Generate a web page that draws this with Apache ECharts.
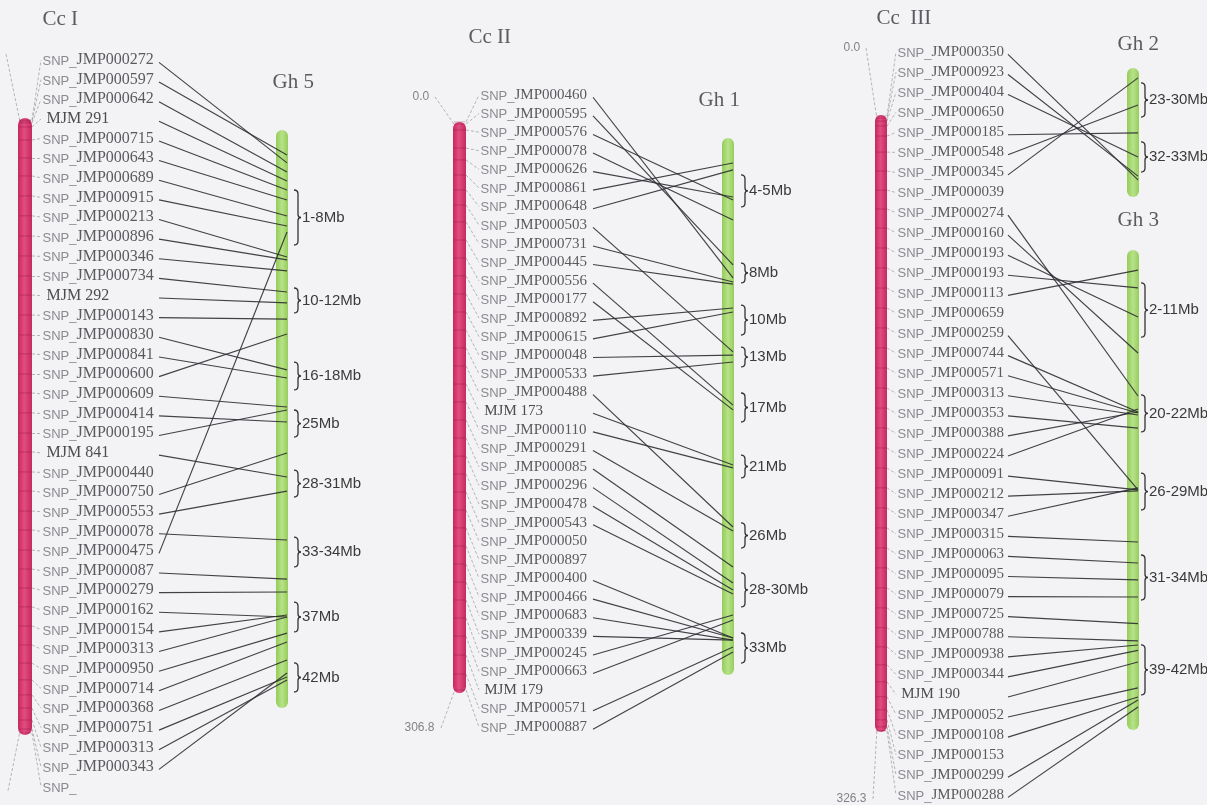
<!DOCTYPE html>
<html>
<head>
<meta charset="utf-8">
<title>Cc / Gh synteny</title>
<script src="https://cdn.jsdelivr.net/npm/echarts@6/dist/echarts.min.js"></script>
<style>
  html, body { margin: 0; padding: 0; background: #f3f3f5; }
  #main { width: 1207px; height: 805px; }
</style>
</head>
<body>
<div id="main"></div>
<script>
// ---- Cc I -> Gh 5 ----
const cc1Markers = ['SNP_JMP000272', 'SNP_JMP000597', 'SNP_JMP000642', 'MJM 291', 'SNP_JMP000715', 'SNP_JMP000643',
  'SNP_JMP000689', 'SNP_JMP000915', 'SNP_JMP000213', 'SNP_JMP000896', 'SNP_JMP000346', 'SNP_JMP000734', 'MJM 292',
  'SNP_JMP000143', 'SNP_JMP000830', 'SNP_JMP000841', 'SNP_JMP000600', 'SNP_JMP000609', 'SNP_JMP000414',
  'SNP_JMP000195', 'MJM 841', 'SNP_JMP000440', 'SNP_JMP000750', 'SNP_JMP000553', 'SNP_JMP000078', 'SNP_JMP000475',
  'SNP_JMP000087', 'SNP_JMP000279', 'SNP_JMP000162', 'SNP_JMP000154', 'SNP_JMP000313', 'SNP_JMP000950',
  'SNP_JMP000714', 'SNP_JMP000368', 'SNP_JMP000751', 'SNP_JMP000313', 'SNP_JMP000343', 'SNP_'];
// map position (cM) of each marker on Cc I
const cc1Pos = [1.0, 1.5, 2.4, 4.4, 10.7, 19.4, 28.2, 37.9, 47.6, 57.4, 67.1, 76.8, 86.1, 95.8, 105.5, 114.7, 124.5,
  133.7, 143.4, 153.2, 162.4, 172.1, 181.4, 191.1, 200.3, 210.1, 219.3, 228.5, 237.7, 247.0, 256.2, 265.0, 273.2,
  280.5, 286.9, 292.7, 297.1, 299.0];
const cc1Len = 300;
// [marker row, row where the link meets Gh 5]
const gh5Links = [[0, 5.24], [1, 4.84], [2, 5.70], [3, 6.16], [4, 6.62], [5, 7.13], [6, 7.94], [7, 8.45], [8, 10.03],
  [9, 10.18], [10, 10.74], [11, 11.81], [12, 12.37], [13, 13.19], [14, 15.78], [15, 16.19], [16, 13.95], [17, 17.67],
  [18, 18.43], [19, 17.82], [20, 21.23], [22, 20.01], [23, 21.95], [24, 24.44], [25, 8.76], [26, 26.43], [27, 27.09],
  [28, 28.36], [29, 28.26], [30, 28.36], [31, 29.18], [32, 29.63], [33, 30.55], [34, 31.42], [35, 31.57], [36, 31.21]];
const gh5Extent = [3.56, 32.99];
const gh5Brackets = [['1-8Mb', 6.62, 9.42], ['10-12Mb', 11.61, 12.88], ['16-18Mb', 15.38, 16.8], ['25Mb', 17.82, 19.2],
  ['28-31Mb', 20.88, 22.25], ['33-34Mb', 24.29, 25.81], ['37Mb', 27.6, 29.12], ['42Mb', 30.7, 32.18]];

// ---- Cc II -> Gh 1 ----
const cc2Markers = ['SNP_JMP000460', 'SNP_JMP000595', 'SNP_JMP000576', 'SNP_JMP000078', 'SNP_JMP000626',
  'SNP_JMP000861', 'SNP_JMP000648', 'SNP_JMP000503', 'SNP_JMP000731', 'SNP_JMP000445', 'SNP_JMP000556',
  'SNP_JMP000177', 'SNP_JMP000892', 'SNP_JMP000615', 'SNP_JMP000048', 'SNP_JMP000533', 'SNP_JMP000488', 'MJM 173',
  'SNP_JMP000110', 'SNP_JMP000291', 'SNP_JMP000085', 'SNP_JMP000296', 'SNP_JMP000478', 'SNP_JMP000543',
  'SNP_JMP000050', 'SNP_JMP000897', 'SNP_JMP000400', 'SNP_JMP000466', 'SNP_JMP000683', 'SNP_JMP000339',
  'SNP_JMP000245', 'SNP_JMP000663', 'MJM 179', 'SNP_JMP000571', 'SNP_JMP000887'];
const cc2Pos = [0.0, 1.1, 4.3, 14.0, 20.4, 28.5, 36.5, 44.6, 53.7, 63.4, 73.1, 82.7, 92.4, 102.1, 111.8, 121.4, 131.1,
  140.8, 150.4, 160.1, 169.8, 179.5, 189.1, 198.8, 208.5, 218.1, 227.8, 237.5, 247.2, 256.8, 266.5, 276.2, 286.4,
  296.6, 305.2];
const cc2Len = 306.8;
const gh1Links = [[0, 9.84], [1, 9.14], [2, 5.65], [3, 6.72], [4, 5.49], [5, 3.66], [6, 4.03], [7, 13.82], [8, 10.06],
  [9, 10.17], [10, 16.68], [11, 16.94], [12, 11.46], [13, 11.67], [14, 13.99], [15, 14.36], [16, 23.24], [17, 19.9],
  [18, 20.06], [19, 23.45], [20, 25.39], [21, 26.25], [22, 26.63], [23, 26.84], [26, 29.21], [27, 29.21], [28, 29.32],
  [29, 29.32], [30, 27.97], [31, 28.24], [33, 29.69], [34, 29.96]];
const gh1Extent = [2.31, 31.2];
const gh1Brackets = [['4-5Mb', 4.3, 6.02], ['8Mb', 9.04, 10.11], ['10Mb', 11.3, 12.91], ['13Mb', 13.56, 14.63],
  ['17Mb', 16.03, 17.59], ['21Mb', 19.37, 20.6], ['26Mb', 23.02, 24.37], ['28-30Mb', 25.71, 27.54],
  ['33Mb', 28.94, 30.56]];

// ---- Cc III -> Gh 2 / Gh 3 ----
const cc3Markers = ['SNP_JMP000350', 'SNP_JMP000923', 'SNP_JMP000404', 'SNP_JMP000650', 'SNP_JMP000185',
  'SNP_JMP000548', 'SNP_JMP000345', 'SNP_JMP000039', 'SNP_JMP000274', 'SNP_JMP000160', 'SNP_JMP000193',
  'SNP_JMP000193', 'SNP_JMP000113', 'SNP_JMP000659', 'SNP_JMP000259', 'SNP_JMP000744', 'SNP_JMP000571',
  'SNP_JMP000313', 'SNP_JMP000353', 'SNP_JMP000388', 'SNP_JMP000224', 'SNP_JMP000091', 'SNP_JMP000212',
  'SNP_JMP000347', 'SNP_JMP000315', 'SNP_JMP000063', 'SNP_JMP000095', 'SNP_JMP000079', 'SNP_JMP000725',
  'SNP_JMP000788', 'SNP_JMP000938', 'SNP_JMP000344', 'MJM 190', 'SNP_JMP000052', 'SNP_JMP000108', 'SNP_JMP000153',
  'SNP_JMP000299', 'SNP_JMP000288'];
const cc3Pos = [0.5, 1.6, 3.2, 5.8, 11.1, 19.6, 29.6, 39.7, 49.7, 59.8, 70.3, 80.9, 91.5, 102.1, 112.6, 123.2, 133.8,
  144.4, 155.0, 165.5, 176.1, 186.7, 197.2, 207.8, 218.4, 229.0, 239.5, 250.1, 260.7, 271.2, 281.3, 290.8, 299.8,
  307.7, 314.6, 319.9, 323.6, 325.7];
const cc3Len = 326.3;
const gh2Links = [[0, 6.37], [1, 6.18], [2, 5.23], [4, 4.03], [5, 2.64], [6, 1.29]];
const gh2Extent = [0.8, 7.22];
const gh2Brackets = [['23-30Mb', 1.54, 3.24], ['32-33Mb', 4.48, 5.98]];
const gh3Links = [[8, 17.13], [9, 14.99], [10, 13.2], [11, 11.75], [12, 10.86], [14, 21.81], [15, 17.93], [16, 17.98],
  [17, 18.08], [18, 18.73], [19, 17.93], [20, 17.78], [21, 21.81], [22, 21.86], [23, 21.71], [24, 24.4], [25, 25.45],
  [26, 26.29], [27, 27.14], [28, 28.47], [29, 29.33], [30, 29.53], [31, 29.8], [32, 30.38], [33, 31.67], [34, 32.12],
  [36, 32.27], [37, 32.62]];
const gh3Extent = [9.86, 33.76];
const gh3Brackets = [['2-11Mb', 11.5, 14.2], ['20-22Mb', 17.08, 18.92], ['26-29Mb', 20.97, 22.81],
  ['31-34Mb', 25.05, 27.29], ['39-42Mb', 29.53, 32.02]];

const W = 1207, H = 805;

// layout of each panel (pixels on x, marker rows on y)
const panels = [
  {
    title: 'Cc I', titleX: 42, titleRow: -2.04,
    markers: cc1Markers, pos: cc1Pos, len: cc1Len, y0: 60, step: 19.64,
    red: {x: 18, w: 14, top: 2.95, bottom: 34.37},
    labelX: 42, lineX: 159, fs: 16,
    ends: [{text: '', x: 6, row: -0.3, edge: 'top'}, {text: '', x: 8, row: 37.2, edge: 'bottom'}],
    gh: [{name: 'Gh 5', titleRow: 1.12, titleX: 272, extent: gh5Extent, links: gh5Links, brackets: gh5Brackets}],
    ghX: 276, braceX: 294
  },
  {
    title: 'Cc II', titleX: 468, titleRow: -3.07,
    markers: cc2Markers, pos: cc2Pos, len: cc2Len, y0: 95, step: 18.59,
    red: {x: 453, w: 13, top: 1.45, bottom: 32.17},
    labelX: 480, lineX: 593, fs: 15,
    ends: [{text: '0.0', x: 412, row: 0.1, edge: 'top'}, {text: '306.8', x: 404, row: 34.05, edge: 'bottom'}],
    gh: [{name: 'Gh 1', titleRow: 0.27, titleX: 698, extent: gh1Extent, links: gh1Links, brackets: gh1Brackets}],
    ghX: 722, braceX: 741
  },
  {
    title: 'Cc  III', titleX: 876, titleRow: -1.69,
    markers: cc3Markers, pos: cc3Pos, len: cc3Len, y0: 52, step: 20.08,
    red: {x: 875, w: 12, top: 3.14, bottom: 33.86},
    labelX: 897, lineX: 1008, fs: 15,
    ends: [{text: '0.0', x: 843, row: -0.2, edge: 'top'}, {text: '326.3', x: 836, row: 37.2, edge: 'bottom'}],
    gh: [
      {name: 'Gh 2', titleRow: -0.35, titleX: 1117, extent: gh2Extent, links: gh2Links, brackets: gh2Brackets},
      {name: 'Gh 3', titleRow: 8.37, titleX: 1117, extent: gh3Extent, links: gh3Links, brackets: gh3Brackets}
    ],
    ghX: 1127, braceX: 1141
  }
];
const GH_W = 12;

const grids = [], xAxes = [], yAxes = [], series = [];

panels.forEach(function (p, k) {
  grids.push({left: 0, top: 0, width: W, height: H});
  xAxes.push({gridIndex: k, type: 'value', min: 0, max: W, show: false});
  yAxes.push({gridIndex: k, type: 'value', inverse: true, min: -p.y0 / p.step, max: (H - p.y0) / p.step, show: false});
  const ax = {xAxisIndex: k, yAxisIndex: k};
  const cmRow = function (cm) { return p.red.top + cm / p.len * (p.red.bottom - p.red.top); };

  // dashed leaders from the map to the marker names
  const leaders = p.markers.map(function (m, i) {
    return {coords: [[p.red.x + p.red.w, cmRow(p.pos[i])], [p.labelX - 1, i]]};
  });
  p.ends.forEach(function (e) {
    const r = e.edge === 'top' ? p.red.top + 0.2 : p.red.bottom - 0.2;
    leaders.push({coords: [[e.x + (e.text ? e.text.length * 7 + 2 : 0), e.row], [p.red.x + 2, r]]});
  });
  series.push(Object.assign({
    type: 'lines', coordinateSystem: 'cartesian2d', silent: true, clip: false, z: 1,
    lineStyle: {color: '#8e8e96', width: 0.8, type: [3, 2], opacity: 0.8},
    data: leaders
  }, ax));

  // chromosome bars: red (Cc) and green (Gh)
  const bars = [{x: p.red.x, w: p.red.w, top: p.red.top, bottom: p.red.bottom, red: true}];
  p.gh.forEach(function (g) {
    bars.push({x: p.ghX, w: GH_W, top: g.extent[0], bottom: g.extent[1], red: false});
  });
  series.push(Object.assign({
    type: 'custom', silent: true, z: 2,
    data: bars.map(function (b, i) { return [i]; }),
    renderItem: function (params, api) {
      const b = bars[params.dataIndex];
      const a = api.coord([b.x, b.top]), c = api.coord([b.x + b.w, b.bottom]);
      const fill = b.red
        ? new echarts.graphic.LinearGradient(0, 0, 1, 0, [
            {offset: 0, color: '#c8285e'}, {offset: 0.45, color: '#e24d80'}, {offset: 1, color: '#c52a5e'}])
        : new echarts.graphic.LinearGradient(0, 0, 1, 0, [
            {offset: 0, color: '#95cc58'}, {offset: 0.5, color: '#b7e28a'}, {offset: 1, color: '#97cd5b'}]);
      return {
        type: 'rect',
        shape: {x: a[0], y: a[1], width: c[0] - a[0], height: c[1] - a[1], r: (c[0] - a[0]) / 2},
        style: {fill: fill}
      };
    }
  }, ax));

  // marker ticks across the red bar
  series.push(Object.assign({
    type: 'custom', silent: true, z: 3,
    data: p.pos.map(function (cm) { return [cmRow(cm)]; }),
    renderItem: function (params, api) {
      const a = api.coord([p.red.x + 1, api.value(0)]), c = api.coord([p.red.x + p.red.w - 1, api.value(0)]);
      return {type: 'line', shape: {x1: a[0], y1: a[1], x2: c[0], y2: c[1]},
        style: {stroke: 'rgba(120,10,50,0.3)', lineWidth: 1}};
    }
  }, ax));

  // links from the marker names to the Gh chromosome
  const links = [];
  p.gh.forEach(function (g) {
    g.links.forEach(function (l) {
      links.push({coords: [[p.lineX, l[0] + 0.12], [p.ghX + GH_W - 1, l[1]]]});
    });
  });
  series.push(Object.assign({
    type: 'lines', coordinateSystem: 'cartesian2d', silent: true, clip: false, z: 4,
    lineStyle: {color: '#2e2e33', width: 1.15, opacity: 0.9},
    data: links
  }, ax));

  // braces and Mb labels
  const brackets = [];
  p.gh.forEach(function (g) { g.brackets.forEach(function (b) { brackets.push(b); }); });
  series.push(Object.assign({
    type: 'custom', silent: true, z: 5,
    data: brackets.map(function (b) { return [b[1], b[2]]; }),
    renderItem: function (params, api) {
      const t = api.coord([p.braceX, api.value(0)]), b = api.coord([p.braceX, api.value(1)]);
      const x = t[0], y1 = t[1], y2 = b[1], ym = (y1 + y2) / 2;
      const d = 'M' + x + ' ' + y1 + ' Q' + (x + 4) + ' ' + y1 + ' ' + (x + 4) + ' ' + (y1 + 4) +
        ' L' + (x + 4) + ' ' + (ym - 3) + ' Q' + (x + 4) + ' ' + ym + ' ' + (x + 7) + ' ' + ym +
        ' Q' + (x + 4) + ' ' + ym + ' ' + (x + 4) + ' ' + (ym + 3) +
        ' L' + (x + 4) + ' ' + (y2 - 4) + ' Q' + (x + 4) + ' ' + y2 + ' ' + x + ' ' + y2;
      return {
        type: 'group',
        children: [
          {type: 'path', shape: {pathData: d}, style: {stroke: '#333', lineWidth: 1.3, fill: null}},
          {type: 'text', x: x + 8, y: ym, style: {text: brackets[params.dataIndex][0], fill: '#3a3a3a',
            font: '15px "Liberation Sans", Arial, sans-serif', verticalAlign: 'middle', align: 'left'}}
        ]
      };
    }
  }, ax));

  // marker names
  series.push(Object.assign({
    type: 'scatter', silent: true, clip: false, z: 6,
    symbolSize: 1, itemStyle: {color: 'rgba(0,0,0,0)'},
    data: p.markers.map(function (m, i) { return [p.labelX, i]; }),
    label: {
      show: true, position: 'right', distance: 0,
      formatter: function (prm) {
        const m = p.markers[prm.dataIndex];
        if (m.indexOf('SNP_') === 0) return '{s|SNP_}{j|' + m.slice(4) + '}';
        return '{m| ' + m + '}';
      },
      rich: {
        s: {fontFamily: '"Liberation Sans", Arial, sans-serif', fontSize: 13, color: '#6f6f75', verticalAlign: 'bottom'},
        j: {fontFamily: '"Liberation Serif", "Times New Roman", serif', fontSize: p.fs, color: '#333338', verticalAlign: 'bottom'},
        m: {fontFamily: '"Liberation Serif", "Times New Roman", serif', fontSize: p.fs, color: '#222226', verticalAlign: 'bottom'}
      }
    }
  }, ax));

  // chromosome titles
  const titles = [{text: p.title, x: p.titleX, row: p.titleRow}];
  p.gh.forEach(function (g) { titles.push({text: g.name, x: g.titleX, row: g.titleRow}); });
  series.push(Object.assign({
    type: 'scatter', silent: true, clip: false, z: 6,
    symbolSize: 1, itemStyle: {color: 'rgba(0,0,0,0)'},
    data: titles.map(function (t) { return [t.x, t.row]; }),
    label: {
      show: true, position: 'right', distance: 0,
      formatter: function (prm) { return titles[prm.dataIndex].text; },
      fontFamily: '"Liberation Serif", "Times New Roman", serif', fontSize: 21, color: '#333338'
    }
  }, ax));

  // map length labels at both ends
  series.push(Object.assign({
    type: 'scatter', silent: true, clip: false, z: 6,
    symbolSize: 1, itemStyle: {color: 'rgba(0,0,0,0)'},
    data: p.ends.map(function (e) { return [e.x, e.row]; }),
    label: {
      show: true, position: 'right', distance: 0,
      formatter: function (prm) { return p.ends[prm.dataIndex].text; },
      fontFamily: '"Liberation Sans", Arial, sans-serif', fontSize: 12, color: '#66666b'
    }
  }, ax));
});

const chart = echarts.init(document.getElementById('main'));
chart.setOption({
  backgroundColor: '#f3f3f5',
  animation: false,
  grid: grids,
  xAxis: xAxes,
  yAxis: yAxes,
  series: series
});
</script>
</body>
</html>
